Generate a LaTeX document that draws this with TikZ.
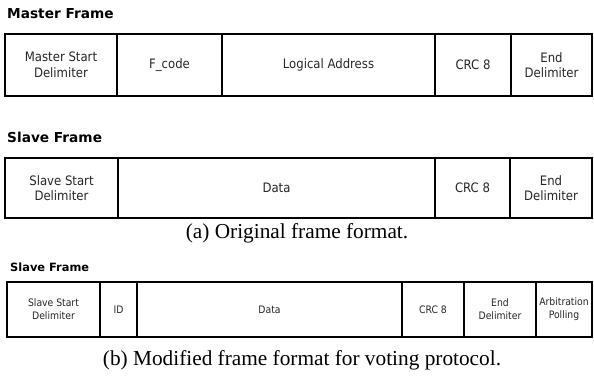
\documentclass[tikz,border=0pt]{standalone}
\usepackage{fontspec}
\setmainfont{Liberation Serif}
\newfontfamily\fieldfont{DejaVu Sans Condensed}
\newfontfamily\titlefont{DejaVu Sans}
\usetikzlibrary{positioning}

\tikzset{
	field/.style={draw, line width=1.3pt, inner sep=0pt, outer sep=0pt, align=center, text=black!85, font=\fieldfont\fontsize{13}{15.5}\selectfont},
	smallfield/.style={field, font=\fieldfont\fontsize{10.3}{13}\selectfont},
	frametitle/.style={anchor=base west, inner sep=0pt, font=\titlefont\bfseries\fontsize{13.7}{16}\selectfont},
	caption/.style={anchor=base, inner sep=0pt, font=\fontsize{21.3}{24}\selectfont}
}

\begin{document}
\begin{tikzpicture}[x=1pt, y=-1pt]
				\useasboundingbox (0,0) rectangle (594,375);

				% original master frame
				\node[frametitle] (mtitle) at (7,18) {Master Frame};
				\node[field, minimum width=112pt, minimum height=62pt, anchor=north west] (mstart) at (5,34) {Master Start\\Delimiter};
				\node[field, minimum width=105pt, minimum height=62pt, right=0pt of mstart] (fcode) {F\_code};
				\node[field, minimum width=213pt, minimum height=62pt, right=0pt of fcode] (laddr) {Logical Address};
				\node[field, minimum width=76pt, minimum height=62pt, right=0pt of laddr] (mcrc) {CRC 8};
				\node[field, minimum width=81pt, minimum height=62pt, right=0pt of mcrc] (mend) {End\\Delimiter};

				% original slave frame
				\node[frametitle] (stitle) at (7,142) {Slave Frame};
				\node[field, minimum width=113pt, minimum height=60pt, anchor=north west] (sstart) at (5,158) {Slave Start\\Delimiter};
				\node[field, minimum width=317pt, minimum height=60pt, right=0pt of sstart] (sdata) {Data};
				\node[field, minimum width=75pt, minimum height=60pt, right=0pt of sdata] (scrc) {CRC 8};
				\node[field, minimum width=82pt, minimum height=60pt, right=0pt of scrc] (send) {End\\Delimiter};

				\node[caption] (capa) at (297,238) {(a) Original frame format.};

				% modified slave frame
				\node[frametitle, font=\titlefont\bfseries\fontsize{11.4}{13}\selectfont] (vtitle) at (10,271) {Slave Frame};
				\node[smallfield, minimum width=93pt, minimum height=55pt, anchor=north west] (vstart) at (7,282) {Slave Start\\Delimiter};
				\node[smallfield, minimum width=37pt, minimum height=55pt, right=0pt of vstart] (vid) {ID};
				\node[smallfield, minimum width=265pt, minimum height=55pt, right=0pt of vid] (vdata) {Data};
				\node[smallfield, minimum width=62pt, minimum height=55pt, right=0pt of vdata] (vcrc) {CRC 8};
				\node[smallfield, minimum width=72pt, minimum height=55pt, right=0pt of vcrc] (vend) {End\\Delimiter};
				\node[smallfield, minimum width=56pt, minimum height=55pt, right=0pt of vend] (varb) {Arbitration\\Polling};

				\node[caption] (capb) at (302,365) {(b) Modified frame format for voting protocol.};
\end{tikzpicture}
\end{document}
